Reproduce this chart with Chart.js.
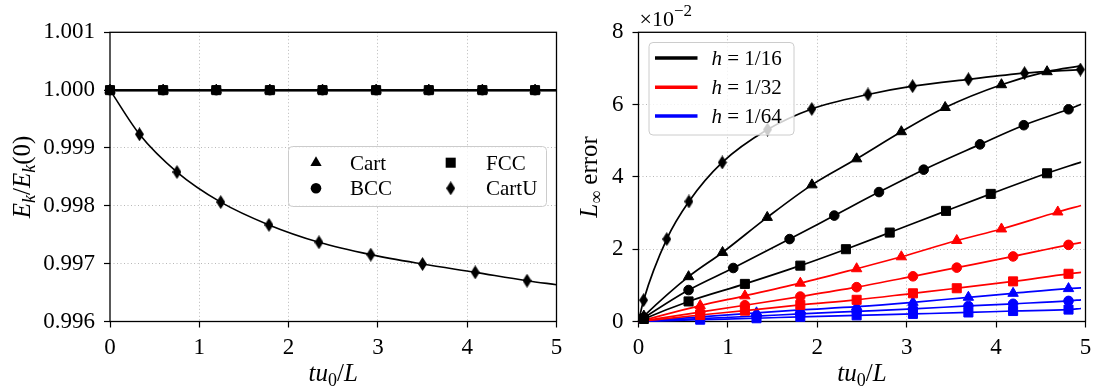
<!DOCTYPE html>
<html>
<head>
<meta charset="utf-8">
<script src="https://cdn.jsdelivr.net/npm/chart.js"></script>
<style>
  body { margin: 0; background: #fff; }
  #wrap { position: relative; width: 1093px; height: 387px; overflow: hidden; }
  canvas { position: absolute; top: 0; }
  #left { left: 0; }
  #right { left: 560px; }
</style>
</head>
<body>
<div id="wrap">
  <canvas id="left" width="570" height="387"></canvas>
  <canvas id="right" width="550" height="387"></canvas>
</div>
<script>
const SERIF = '"Liberation Serif", "Times New Roman", serif';

// Left panel: kinetic energy ratio Ek/Ek(0)
const tTicks = [0, 1, 2, 3, 4, 5];
const ekTicks = [0.996, 0.997, 0.998, 0.999, 1.000, 1.001];
const tFlat = [0, 0.595, 1.19, 1.79, 2.38, 2.98, 3.57, 4.17, 4.76, 5];
const ekCart = [1, 1, 1, 1, 1, 1, 1, 1, 1, 1];
const ekBCC = [1, 1, 1, 1, 1, 1, 1, 1, 1, 1];
const ekFCC = [1, 1, 1, 1, 1, 1, 1, 1, 1, 1];
const tCartU = [0, 0.33, 0.75, 1.24, 1.78, 2.34, 2.92, 3.50, 4.09, 4.67, 5];
const ekCartU = [1.0, 0.999237, 0.998584, 0.998064, 0.99767, 0.99737, 0.997156, 0.996994, 0.99685, 0.996705, 0.996636];

// Right panel: L-infinity error, in units of 1e-2
const errTicks = [0, 2, 4, 6, 8];
// h = 1/16
const t16Cart = [0, 0.06, 0.56, 0.94, 1.44, 1.94, 2.44, 2.94, 3.43, 4.06, 4.57, 4.95];
const e16Cart = [0, 0.15, 1.24, 1.91, 2.88, 3.78, 4.50, 5.25, 5.92, 6.55, 6.91, 7.07];
const t16BCC = [0, 0.06, 0.56, 1.06, 1.69, 2.19, 2.69, 3.19, 3.82, 4.31, 4.81, 4.95];
const e16BCC = [0, 0.10, 0.87, 1.48, 2.28, 2.93, 3.58, 4.20, 4.90, 5.43, 5.87, 6.01];
const t16FCC = [0, 0.06, 0.56, 1.19, 1.81, 2.32, 2.81, 3.44, 3.94, 4.57, 4.95];
const e16FCC = [0, 0.07, 0.555, 1.04, 1.545, 2.0, 2.46, 3.06, 3.53, 4.10, 4.41];
const t16CartU = [0, 0.057, 0.316, 0.564, 0.937, 1.443, 1.938, 2.567, 3.066, 3.69, 4.318, 4.943];
const e16CartU = [0, 0.59, 2.28, 3.32, 4.40, 5.31, 5.88, 6.28, 6.51, 6.70, 6.87, 6.97];
// h = 1/32
const t32Cart = [0, 0.69, 1.19, 1.81, 2.44, 2.94, 3.56, 4.06, 4.69, 4.95];
const e32Cart = [0, 0.44, 0.71, 1.06, 1.46, 1.79, 2.24, 2.56, 3.03, 3.21];
const t32 = [0, 0.69, 1.19, 1.81, 2.44, 3.07, 3.56, 4.19, 4.81, 4.95];
const e32BCC = [0, 0.26, 0.45, 0.69, 0.95, 1.25, 1.49, 1.80, 2.12, 2.18];
const e32FCC = [0, 0.18, 0.30, 0.46, 0.60, 0.78, 0.92, 1.11, 1.32, 1.36];
// h = 1/64
const t64 = [0, 0.69, 1.32, 1.81, 2.44, 3.07, 3.69, 4.19, 4.81, 4.95];
const e64Cart = [0, 0.13, 0.24, 0.32, 0.41, 0.53, 0.67, 0.78, 0.91, 0.93];
const e64BCC = [0, 0.08, 0.15, 0.21, 0.28, 0.35, 0.43, 0.49, 0.57, 0.60];
const e64FCC = [0, 0.05, 0.09, 0.13, 0.17, 0.21, 0.25, 0.29, 0.33, 0.36];

// thin diamond marker (matplotlib 'd')
function diamond(w, h, color) {
  const c = document.createElement('canvas');
  c.width = w; c.height = h;
  const g = c.getContext('2d');
  g.fillStyle = color;
  g.beginPath();
  g.moveTo(w / 2, 0); g.lineTo(w, h / 2); g.lineTo(w / 2, h); g.lineTo(0, h / 2);
  g.closePath();
  g.fill();
  return c;
}
const DIA = diamond(9, 14, '#000');

const R = { triangle: 6, circle: 4.8, rect: 6.4 };

function series(xs, ys, color, style, width, hideFirst, hideLast) {
  const n = xs.length;
  return {
    data: xs.map((x, i) => ({ x: x, y: ys[i] })),
    borderColor: color,
    backgroundColor: color,
    pointBackgroundColor: color,
    pointBorderColor: color,
    borderWidth: width,
    pointBorderWidth: style === DIA ? 0 : 1,
    pointStyle: style,
    pointRadius: xs.map((x, i) => ((hideFirst && i === 0) || (hideLast && i === n - 1)) ? 0 : (R[style] || 6)),
    pointHoverRadius: 0,
    cubicInterpolationMode: 'monotone',
    clip: false
  };
}

// rich text: parts = [text, size, italic, dy]
function drawMath(ctx, parts, x, y) {
  const fontOf = p => (p[2] ? 'italic ' : '') + p[1] + 'px ' + SERIF;
  let w = 0;
  parts.forEach(p => { ctx.font = fontOf(p); w += ctx.measureText(p[0]).width; });
  let cx = x - w / 2;
  parts.forEach(p => {
    ctx.font = fontOf(p);
    ctx.fillText(p[0], cx, y + (p[3] || 0));
    cx += ctx.measureText(p[0]).width;
  });
}

function legendBox(ctx, x, y, w, h) {
  const r = 4;
  ctx.save();
  ctx.beginPath();
  ctx.moveTo(x + r, y);
  ctx.arcTo(x + w, y, x + w, y + h, r);
  ctx.arcTo(x + w, y + h, x, y + h, r);
  ctx.arcTo(x, y + h, x, y, r);
  ctx.arcTo(x, y, x + w, y, r);
  ctx.closePath();
  ctx.fillStyle = 'rgba(255,255,255,0.8)';
  ctx.fill();
  ctx.strokeStyle = '#cccccc';
  ctx.lineWidth = 1;
  ctx.stroke();
  ctx.restore();
}

function marker(ctx, style, x, y) {
  ctx.save();
  ctx.fillStyle = '#000';
  ctx.beginPath();
  if (style === 'triangle') {
    const r = R.triangle + 0.5;
    ctx.moveTo(x, y - r);
    ctx.lineTo(x + r * 0.866, y + r / 2);
    ctx.lineTo(x - r * 0.866, y + r / 2);
    ctx.closePath();
    ctx.fill();
  } else if (style === 'circle') {
    ctx.arc(x, y, R.circle + 0.5, 0, Math.PI * 2);
    ctx.fill();
  } else if (style === 'rect') {
    const s = R.rect * Math.SQRT1_2 + 0.5;
    ctx.fillRect(x - s, y - s, 2 * s, 2 * s);
  } else {
    ctx.drawImage(DIA, x - DIA.width / 2, y - DIA.height / 2);
  }
  ctx.restore();
}

const frame = {
  id: 'frame',
  beforeDatasetsDraw(chart) {
    const a = chart.chartArea;
    const ctx = chart.ctx;
    ctx.save();
    ctx.strokeStyle = '#000';
    ctx.lineWidth = 1.3;
    ctx.strokeRect(a.left, a.top, a.right - a.left, a.bottom - a.top);
    ctx.restore();
  }
};

function gridColor(c) {
  const n = c.scale.ticks.length;
  return (c.index === 0 || c.index === n - 1) ? 'rgba(0,0,0,0)' : '#b0b0b0';
}

function axes(yTicks, yWidth, yFmt) {
  const tickFont = { family: SERIF, size: 23 };
  return {
    x: {
      type: 'linear', min: 0, max: 5,
      afterBuildTicks: s => { s.ticks = tTicks.map(v => ({ value: v })); },
      afterFit: s => { s.height = 65.5; },
      ticks: { font: tickFont, color: '#000', padding: 7, maxRotation: 0 },
      grid: { color: gridColor, lineWidth: 0.9, tickColor: '#000', tickWidth: 1.2, tickLength: 6 },
      border: { display: false, dash: [1, 2.5] }
    },
    y: {
      type: 'linear', min: yTicks[0], max: yTicks[yTicks.length - 1],
      afterBuildTicks: s => { s.ticks = yTicks.map(v => ({ value: v })); },
      afterFit: s => { s.width = yWidth; },
      ticks: { font: tickFont, color: '#000', padding: 9, callback: yFmt },
      grid: { color: gridColor, lineWidth: 0.9, tickColor: '#000', tickWidth: 1.2, tickLength: 6 },
      border: { display: false, dash: [1, 2.5] }
    }
  };
}

const leftDeco = {
  id: 'leftDeco',
  afterDraw(chart) {
    const ctx = chart.ctx;
    const a = chart.chartArea;
    ctx.save();
    ctx.fillStyle = '#000';
    ctx.textBaseline = 'alphabetic';
    drawMath(ctx, [['t', 25, 1], ['u', 25, 1], ['0', 18, 0, 5], ['/', 25, 0], ['L', 25, 1]], (a.left + a.right) / 2, 381);
    ctx.save();
    ctx.translate(30, (a.top + a.bottom) / 2);
    ctx.rotate(-Math.PI / 2);
    drawMath(ctx, [['E', 25, 1], ['k', 18, 1, 5], ['/', 25, 0], ['E', 25, 1], ['k', 18, 1, 5], ['(0)', 25, 0]], 0, 0);
    ctx.restore();
    // legend, two columns
    legendBox(ctx, 288.5, 146.5, 258, 60);
    const items = [['triangle', 'Cart', 316, 162.7, 350], ['circle', 'BCC', 316, 188.3, 350],
                   ['rect', 'FCC', 450.7, 162.7, 486], [DIA, 'CartU', 450.7, 188.3, 486]];
    ctx.font = '21px ' + SERIF;
    items.forEach(it => {
      marker(ctx, it[0], it[2], it[3]);
      ctx.fillStyle = '#000';
      ctx.fillText(it[1], it[4], it[3] + 7);
    });
    ctx.restore();
  }
};

const rightDeco = {
  id: 'rightDeco',
  afterDraw(chart) {
    const ctx = chart.ctx;
    const a = chart.chartArea;
    ctx.save();
    ctx.fillStyle = '#000';
    ctx.textBaseline = 'alphabetic';
    drawMath(ctx, [['t', 25, 1], ['u', 25, 1], ['0', 18, 0, 5], ['/', 25, 0], ['L', 25, 1]], (a.left + a.right) / 2, 381);
    ctx.save();
    ctx.translate(37, (a.top + a.bottom) / 2);
    ctx.rotate(-Math.PI / 2);
    drawMath(ctx, [['L', 25, 1], ['\u221E', 18, 0, 5], [' error', 25, 0]], 0, 0);
    ctx.restore();
    // offset text
    ctx.font = '22px ' + SERIF;
    const w1 = ctx.measureText('\u00D710').width;
    ctx.fillText('\u00D710', a.left + 1, 26);
    ctx.font = '17px ' + SERIF;
    ctx.fillText('\u22122', a.left + 1 + w1, 16);
    // legend
    legendBox(ctx, 89, 42.5, 145, 92.5);
    const rows = [['#000', '1/16', 58], ['#ff0000', '1/32', 87.3], ['#0000ff', '1/64', 116]];
    rows.forEach(r => {
      ctx.strokeStyle = r[0];
      ctx.lineWidth = 3.5;
      ctx.beginPath();
      ctx.moveTo(95, r[2]);
      ctx.lineTo(137.5, r[2]);
      ctx.stroke();
      ctx.fillStyle = '#000';
      ctx.font = 'italic 21px ' + SERIF;
      ctx.fillText('h', 151.5, r[2] + 7);
      const wh = ctx.measureText('h').width;
      ctx.font = '21px ' + SERIF;
      ctx.fillText(' = ' + r[1], 151.5 + wh, r[2] + 7);
    });
    ctx.restore();
  }
};

new Chart(document.getElementById('left'), {
  type: 'line',
  data: {
    datasets: [
      series(tFlat, ekCart, '#000', 'triangle', 2, false, true),
      series(tFlat, ekBCC, '#000', 'circle', 2, false, true),
      series(tFlat, ekFCC, '#000', 'rect', 2, false, true),
      series(tCartU, ekCartU, '#000', DIA, 1.6, true, true)
    ]
  },
  options: {
    responsive: false,
    animation: false,
    events: [],
    layout: { padding: { left: 0, right: 13.5, top: 32.3, bottom: 0 } },
    plugins: { legend: { display: false }, tooltip: { enabled: false } },
    scales: axes(ekTicks, 110, v => v.toFixed(3))
  },
  plugins: [frame, leftDeco]
});

new Chart(document.getElementById('right'), {
  type: 'line',
  data: {
    datasets: [
      series(t16Cart, e16Cart, '#000', 'triangle', 1.7, true, true),
      series(t16BCC, e16BCC, '#000', 'circle', 1.7, true, true),
      series(t16FCC, e16FCC, '#000', 'rect', 1.7, true, true),
      series(t16CartU, e16CartU, '#000', DIA, 1.7, true, false),
      series(t32Cart, e32Cart, '#ff0000', 'triangle', 1.7, true, true),
      series(t32, e32BCC, '#ff0000', 'circle', 1.7, true, true),
      series(t32, e32FCC, '#ff0000', 'rect', 1.7, true, true),
      series(t64, e64Cart, '#0000ff', 'triangle', 1.7, true, true),
      series(t64, e64BCC, '#0000ff', 'circle', 1.7, true, true),
      series(t64, e64FCC, '#0000ff', 'rect', 1.7, true, true)
    ]
  },
  options: {
    responsive: false,
    animation: false,
    events: [],
    layout: { padding: { left: 0, right: 24.5, top: 32.3, bottom: 0 } },
    plugins: { legend: { display: false }, tooltip: { enabled: false } },
    scales: axes(errTicks, 78.5, v => String(v))
  },
  plugins: [frame, rightDeco]
});
</script>
</body>
</html>
